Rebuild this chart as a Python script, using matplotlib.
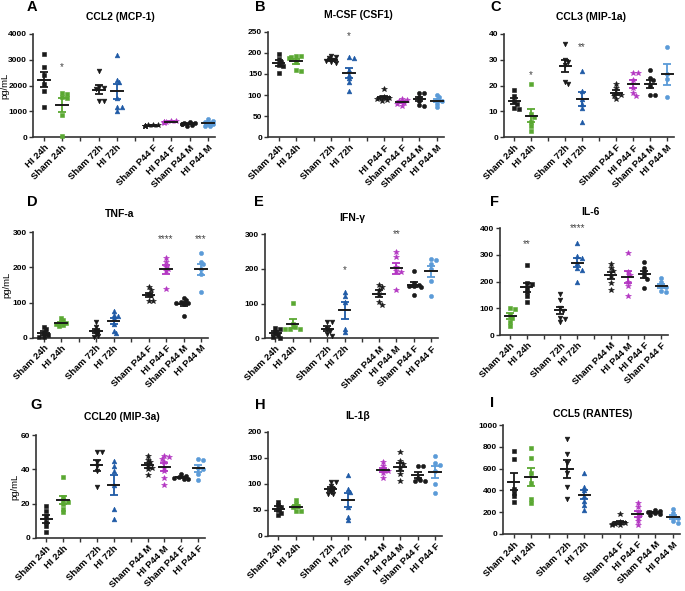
import matplotlib.pyplot as plt
import numpy as np

plt.rcParams['font.family'] = ['Liberation Sans', 'DejaVu Sans']

x_pos = [0, 1, 3, 4, 6, 7, 8, 9]

# A - CCL2
ccl2_labels = ["HI 24h", "Sham 24h", "Sham 72h", "HI 72h", "Sham P44 F", "HI P44 F", "Sham P44 M", "HI P44 M"]
ccl2_vals = [[3230, 2740, 2400, 2050, 1800, 1170],
             [1720, 1690, 1560, 1520, 860, 50],
             [2580, 1950, 1900, 1870, 1390, 1390],
             [3180, 2230, 2130, 1540, 1190, 1180, 1000],
             [480, 470, 460, 450, 440, 430, 420],
             [650, 620, 600, 590, 580, 560],
             [580, 560, 540, 520, 500, 490, 430],
             [700, 650, 600, 520, 520, 430, 420]]
ccl2_sig = [(1, 2700, "*")]

# B - M-CSF
mcsf_labels = ["Sham 24h", "HI 24h", "Sham 72h", "HI 72h", "HI P44 F", "Sham P44 F", "Sham P44 M", "HI P44 M"]
mcsf_vals = [[198, 185, 178, 172, 168, 152],
             [193, 192, 190, 188, 178, 160, 158],
             [193, 190, 187, 183, 180, 178, 176],
             [190, 188, 160, 148, 140, 130, 110],
             [115, 95, 93, 92, 90, 88, 87],
             [90, 88, 85, 82, 80, 75],
             [105, 104, 95, 85, 77, 75],
             [100, 95, 88, 85, 80, 72]]
mcsf_sig = [(3, 240, "*")]

# C - CCL3
ccl3_labels = ["Sham 24h", "HI 24h", "Sham 72h", "HI 72h", "Sham P44 F", "HI P44 F", "Sham P44 M", "HI P44 M"]
ccl3_vals = [[18.5, 16, 14, 13, 11.5, 11],
             [20.5, 9, 8, 6, 4.5, 2.5],
             [36, 30, 29, 28, 21.5, 20.5],
             [25.5, 18, 15, 13, 11.5, 6],
             [20.5, 19, 17, 16.5, 16, 15],
             [25, 25, 22, 19, 17, 16],
             [26, 23, 22, 20, 16.5, 16.5],
             [35, 24.5, 22.5, 15.5]]
ccl3_sig = [(1, 24, "*"), (3, 35, "**")]

# D - TNF-a
tnf_labels = ["Sham 24h", "HI 24h", "Sham 72h", "HI 72h", "Sham P44 F", "HI P44 F", "Sham P44 M", "HI P44 M"]
tnf_vals = [[30, 25, 12, 8, 3, 2],
            [55, 50, 44, 42, 40, 36, 34],
            [45, 30, 20, 15, 10, 5, 2],
            [77, 65, 62, 55, 40, 20, 12],
            [143, 135, 125, 120, 105, 105],
            [228, 215, 200, 195, 190, 140],
            [112, 106, 102, 100, 98, 96, 62],
            [242, 215, 210, 195, 180, 130]]
tnf_sig = [(5, 280, "****"), (7, 280, "***")]

# E - IFN-g
ifn_labels = ["Sham 24h", "HI 24h", "Sham 72h", "HI 72h", "Sham P44 M", "HI P44 M", "Sham P44 F", "HI P44 F"]
ifn_vals = [[30, 28, 18, 10, 5, 2],
            [103, 40, 32, 28, 27, 26],
            [48, 47, 28, 20, 12, 8],
            [133, 122, 105, 28, 17],
            [155, 148, 140, 125, 105, 97],
            [248, 235, 205, 195, 190, 140],
            [195, 160, 155, 150, 150, 148, 125],
            [230, 225, 215, 200, 165, 122]]
ifn_sig = [(3, 197, "*"), (5, 300, "**")]

# F - IL-6
il6_labels = ["Sham 24h", "HI 24h", "Sham 72h", "HI 72h", "Sham P44 M", "HI P44 M", "HI P44 F", "Sham P44 F"]
il6_vals = [[100, 98, 75, 65, 50, 35],
            [262, 195, 190, 175, 160, 145, 125],
            [152, 130, 100, 90, 65, 60, 48],
            [345, 295, 290, 270, 250, 245, 200],
            [265, 250, 240, 220, 195, 170],
            [307, 235, 225, 200, 185, 145],
            [272, 252, 235, 220, 210, 178],
            [215, 200, 185, 180, 165, 162]]
il6_sig = [(1, 340, "**"), (3, 400, "****")]

# G - CCL20
ccl20_labels = ["Sham 24h", "HI 24h", "Sham 72h", "HI 72h", "Sham P44 M", "HI P44 M", "Sham P44 F", "HI P44 F"]
ccl20_vals = [[18.5, 16, 13, 9.5, 7, 3.5],
              [35.5, 24, 22, 21, 20, 17, 15],
              [50, 50, 44, 42, 39, 29.5],
              [45, 42, 39, 31, 17, 11],
              [47.5, 45.5, 44, 42, 41, 40, 36.5],
              [47.5, 47, 46, 44, 41, 39, 35, 31],
              [37, 36, 35.5, 35, 34.5, 34.5],
              [46, 45.5, 41, 40, 37, 33.5]]
ccl20_sig = []

# H - IL-1b
il1b_labels = ["Sham 24h", "HI 24h", "Sham 72h", "HI 72h", "Sham P44 M", "HI P44 M", "Sham P44 F", "HI P44 F"]
il1b_vals = [[66, 60, 55, 50, 45, 40],
             [69, 62, 58, 55, 48, 47],
             [104, 103, 95, 90, 85, 80, 80],
             [117, 90, 85, 55, 37, 30],
             [142, 135, 128, 125, 120, 112],
             [162, 143, 138, 130, 118, 105],
             [135, 135, 112, 108, 105, 105],
             [154, 140, 137, 125, 100, 82]]
il1b_sig = []

# I - CCL5
ccl5_labels = ["Sham 24h", "HI 24h", "Sham 72h", "HI 72h", "Sham P44 F", "HI P44 F", "Sham P44 M", "HI P44 M"]
ccl5_vals = [[760, 690, 410, 380, 350, 295],
             [790, 700, 560, 470, 320, 280],
             [875, 730, 650, 560, 430, 320],
             [560, 430, 400, 350, 300, 270, 220],
             [185, 110, 100, 95, 90, 85, 80],
             [280, 250, 200, 180, 150, 120, 80],
             [220, 215, 205, 200, 190, 180, 175],
             [225, 195, 165, 150, 120, 105]]
ccl5_sig = []

black = "#1a1a1a"
green = "#5aa832"
blue = "#1f5aa6"
magenta = "#b335c2"
lblue = "#5b9bd8"
colors_std = [black, green, black, blue, black, magenta, black, lblue]
colors_f = [green, black, black, blue, black, magenta, black, lblue]
colors_h = [black, green, black, blue, magenta, black, black, lblue]
markers = ['s', 's', 'v', '^', '*', '*', 'o', 'o']
msizes = [2.8, 2.8, 3.4, 3.4, 4.2, 4.2, 3.0, 3.0]

W, H = 685, 591

panels = [
    # letter, title, labels, values, sig, colors, ymax, ystep, ylabel x, axes px (l, r, top, bottom), title xy, letter xy
    ("A", "CCL2 (MCP-1)", ccl2_labels, ccl2_vals, ccl2_sig, colors_std, 4000, 1000, 5, (33, 215, 34, 137.3), (120, 17), (27, 7)),
    ("B", "M-CSF (CSF1)", mcsf_labels, mcsf_vals, mcsf_sig, colors_std, 250, 50, None, (268, 444, 31.7, 137.3), (358, 15), (255, 7)),
    ("C", "CCL3 (MIP-1a)", ccl3_labels, ccl3_vals, ccl3_sig, colors_std, 40, 10, None, (504, 674, 34, 137.3), (591, 17), (490, 7)),
    ("D", "TNF-a", tnf_labels, tnf_vals, tnf_sig, colors_std, 300, 100, 7, (33, 208, 232.3, 337.7), (120, 214), (27, 202)),
    ("E", "IFN-\u03b3", ifn_labels, ifn_vals, ifn_sig, colors_std, 300, 100, None, (265, 438, 234.3, 338.3), (352, 218), (254, 202)),
    ("F", "IL-6", il6_labels, il6_vals, il6_sig, colors_f, 400, 100, None, (500, 668, 228.3, 335), (590, 212), (490, 202)),
    ("G", "CCL20 (MIP-3a)", ccl20_labels, ccl20_vals, ccl20_sig, colors_std, 60, 20, 15, (36, 205, 435, 538), (122, 417), (30, 405)),
    ("H", "IL-1\u03b2", il1b_labels, il1b_vals, il1b_sig, colors_h, 200, 50, None, (268, 442, 431.7, 536), (358, 416), (255, 405)),
    ("I", "CCL5 (RANTES)", ccl5_labels, ccl5_vals, ccl5_sig, colors_std, 1000, 200, None, (503, 680, 425, 534), (593, 414), (490, 403)),
]


def swarm(vals, x0, px_x, px_y, size=3.0, step=0.14):
    vals = np.asarray(vals, dtype=float)
    order = np.argsort(vals)[::-1]
    placed = []
    xs = np.zeros(len(vals))
    for i in order:
        y = vals[i] * px_y
        dx = 0
        for k in [0, 1, -1, 2, -2, 3, -3]:
            dx = k * step
            if all(np.hypot((dx - pdx) * px_x, y - py) >= size for pdx, py in placed):
                break
        placed.append((dx, y))
        xs[i] = x0 + dx
    return xs


fig = plt.figure(figsize=(W / 100, H / 100), dpi=100)
xmin, xmax = -0.6, 9.4

for letter, title, labels, vals, sig, cols, ymax, ystep, ylab_x, (l, r, t, b), (tx, ty), (lx, ly) in panels:
    ax = fig.add_axes([l / W, 1 - b / H, (r - l) / W, (b - t) / H])
    px_x = (r - l) / (xmax - xmin)
    px_y = (b - t) / ymax
    for i, v in enumerate(vals):
        x0 = x_pos[i]
        xs = swarm(v, x0, px_x, px_y)
        ax.plot(xs, v, linestyle='none', marker=markers[i], color=cols[i],
                markersize=msizes[i], markeredgewidth=0.4, clip_on=False, zorder=3)
        m = np.mean(v)
        sem = np.std(v, ddof=1) / np.sqrt(len(v))
        ax.errorbar(x0, m, yerr=sem, color=cols[i], capsize=2.8, elinewidth=1.3,
                    capthick=1.3, zorder=2, fmt='none')
        ax.plot([x0 - 0.33, x0 + 0.33], [m, m], color=black, lw=1.4, zorder=4)
    for gi, yv, s in sig:
        ax.text(x_pos[gi], yv, s, ha='center', va='center', fontsize=7, color="#444444")
    ax.set_xlim(xmin, xmax)
    ax.set_ylim(0, ymax)
    ax.set_yticks(np.arange(0, ymax + ystep / 2, ystep))
    ax.set_xticks(range(10))
    tick_labels = [""] * 10
    for i, p in enumerate(x_pos):
        tick_labels[p] = labels[i]
    ax.set_xticklabels(tick_labels, rotation=45, ha='right', rotation_mode='anchor')
    for lab in ax.get_xticklabels():
        lab.set_fontweight('bold')
        lab.set_fontsize(6.8)
    for lab in ax.get_yticklabels():
        lab.set_fontweight('bold')
        lab.set_fontsize(6.0)
    ax.tick_params(length=3, width=1, color="#333333", pad=1.2)
    for s in ['top', 'right']:
        ax.spines[s].set_visible(False)
    for s in ['left', 'bottom']:
        ax.spines[s].set_linewidth(1.2)
        ax.spines[s].set_color("#333333")
    if ylab_x is not None:
        fig.text(ylab_x / W, 1 - (t + b) / 2 / H, "pg/mL", rotation=90, ha='center', va='center', fontsize=6.8)
    fig.text(tx / W, 1 - ty / H, title, ha='center', va='center', fontsize=7.5, fontweight='bold')
    fig.text(lx / W, 1 - ly / H, letter, ha='left', va='center', fontsize=10.5, fontweight='bold')

fig.savefig("out.png", dpi=100)
